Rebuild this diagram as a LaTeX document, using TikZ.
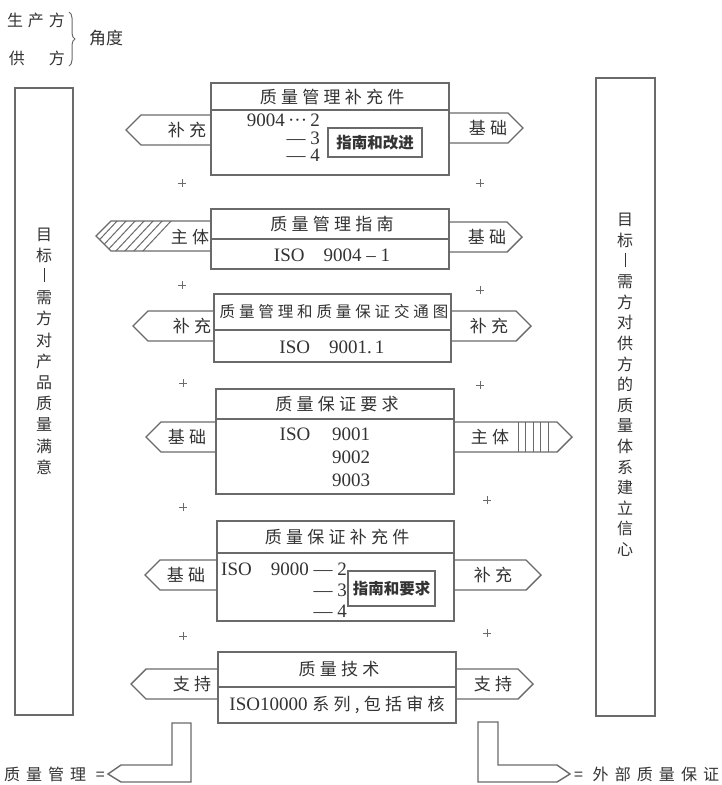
\documentclass[tikz,border=0pt]{standalone}
\usepackage{fontspec}
\setmainfont{Liberation Serif}
\newfontfamily\cjk{Noto Sans CJK SC}
\newfontfamily\cjks{Noto Sans CJK SC}[LetterSpace=25]
\newfontfamily\cjkw{Noto Sans CJK SC}[LetterSpace=38]
\usetikzlibrary{decorations.pathreplacing}
\definecolor{lnc}{HTML}{6A6A6A}
\definecolor{tx}{HTML}{333333}
\tikzset{
 ln/.style={draw=lnc, line width=1.4pt, line join=miter},
 ttl/.style={text=tx, font=\cjks\fontsize{17}{17}\selectfont, inner sep=0pt},
 smttl/.style={text=tx, font=\cjks\fontsize{15.5}{15.5}\selectfont, inner sep=0pt},
 lbl/.style={text=tx, font=\cjks\fontsize{17}{17}\selectfont, inner sep=0pt},
 num/.style={text=tx, font=\fontsize{19}{19}\selectfont, inner sep=0pt},
 inbox/.style={draw=lnc, line width=1.3pt, text=tx, font=\cjk\bfseries\fontsize{15.5}{15.5}\selectfont, inner sep=0pt},
 side/.style={text=tx, font=\cjk\fontsize{16}{16}\selectfont, inner sep=0pt},
 sides/.style={text=tx, font=\cjkw\fontsize{16}{16}\selectfont, inner sep=0pt},
 plusmark/.style={draw=lnc, line width=0.6pt},
}
\newcommand\leftarr[3]{\draw[ln] (#1,#3-15) -- (#2+15,#3-15) -- (#2,#3) -- (#2+15,#3+15) -- (#1,#3+15);}
\newcommand\rightarr[3]{\draw[ln] (#1,#3-15) -- (#2-15,#3-15) -- (#2,#3) -- (#2-15,#3+15) -- (#1,#3+15);}
\newcommand\plusat[2]{\draw[plusmark] (#1-4,#2) -- (#1+4,#2) (#1,#2-4) -- (#1,#2+4);}
\begin{document}
\begin{tikzpicture}[x=1pt,y=-1pt]
\useasboundingbox (0,0) rectangle (721,785);
\fill[white] (0,0) rectangle (721,785);

% top-left
\node[side] (sc) at (36,20) {生\hspace{5pt}产\hspace{5pt}方};
\node[side] (gf) at (37,58) {供\hspace{24pt}方};
\draw[draw=lnc, line width=1pt, decorate, decoration={brace, amplitude=6pt}] (69,12) -- (69,66);
\node[text=tx, font=\cjk\fontsize{17}{17}\selectfont, inner sep=0pt] (jd) at (106,38) {角度};

% tall side boxes
\draw[ln] (15,88) rectangle (73,715);
\node[text=tx, font=\cjk\fontsize{16}{21.2}\selectfont, align=center, inner sep=0pt] (lt) at (44,351)
 {目\\标\\\rule{0.6pt}{14pt}\\需\\方\\对\\产\\品\\质\\量\\满\\意};
\draw[ln] (596,78) rectangle (655,716);
\node[text=tx, font=\cjk\fontsize{16}{20.6}\selectfont, align=center, inner sep=0pt] (rt) at (625,385)
 {目\\标\\\rule{0.6pt}{14pt}\\需\\方\\对\\供\\方\\的\\质\\量\\体\\系\\建\\立\\信\\心};

% Row 1
\draw[ln] (211,83) rectangle (449,175);
\draw[ln] (211,110) -- (449,110);
\node[ttl] (t1) at (332,97) {质量管理补充件};
\leftarr{211}{126}{130}
\rightarr{449}{523}{128}
\node[lbl] (l1) at (187,130) {补充};
\node[lbl] (r1) at (488,128) {基础};
\node[num, font=\fontsize{19}{17.5}\selectfont, align=right, anchor=east] (a1) at (320,138)
 {9004\,···\,2\\— 3\\— 4};
\node[inbox, minimum width=94pt, minimum height=29pt] (i1) at (375,142.5) {指南和改进};

% Row 2
\draw[ln] (211,209) rectangle (449,269);
\draw[ln] (211,239) -- (449,239);
\node[ttl] (t2) at (332,224) {质量管理指南};
\node[num] (n2) at (332,255) {ISO\quad 9004 – 1};
\begin{scope}
\clip (211,221) -- (111,221) -- (96,236) -- (111,251) -- (211,251) -- cycle;
\foreach \s in {88,97,...,142} {\draw[draw=lnc, line width=1pt] (\s,252) -- (\s+30,220);}
\end{scope}
\leftarr{211}{96}{236}
\rightarr{449}{522}{237}
\node[lbl] (l2) at (190,237) {主体};
\node[lbl] (r2) at (487,237) {基础};

% Row 3
\draw[ln] (214,294) rectangle (451,362);
\draw[ln] (214,330) -- (451,330);
\node[smttl] (t3) at (334,312) {质量管理和质量保证交通图};
\node[num] (n3) at (332,347) {ISO\quad 9001.\,1};
\leftarr{214}{133}{326}
\rightarr{451}{531}{326}
\node[lbl] (l3) at (192,326) {补充};
\node[lbl] (r3) at (489,326) {补充};

% Row 4
\draw[ln] (216,389) rectangle (454,494);
\draw[ln] (216,419) -- (454,419);
\node[ttl] (t4) at (337,404) {质量保证要求};
\node[num] (a4) at (295,434) {ISO};
\node[num, font=\fontsize{19}{23}\selectfont, align=center] (b4) at (351,457) {9001\\9002\\9003};
\leftarr{216}{146}{437}
\rightarr{454}{572}{437}
\foreach \x in {518,525.5,...,549} {\draw[draw=lnc, line width=1pt] (\x,422) -- (\x,452);}
\node[lbl] (l4) at (187,437) {基础};
\node[lbl] (r4) at (490,437) {主体};

% Row 5
\draw[ln] (217,521) rectangle (454,621);
\draw[ln] (217,553) -- (454,553);
\node[ttl] (t5) at (337,537) {质量保证补充件};
\node[num, font=\fontsize{19}{21}\selectfont, align=right, anchor=east] (a5) at (347,590)
 {ISO\quad 9000 — 2\\— 3\\— 4};
\node[inbox, minimum width=87pt, minimum height=35pt] (i5) at (391.5,588.5) {指南和要求};
\leftarr{217}{145}{575}
\rightarr{454}{541}{575}
\node[lbl] (l5) at (186,575) {基础};
\node[lbl] (r5) at (493,575) {补充};

% Row 6
\draw[ln] (218,652) rectangle (456,723);
\draw[ln] (218,687) -- (456,687);
\node[ttl] (t6) at (339,669) {质量技术};
\node[num] (n6) at (337,705) {ISO10000 {\cjks\fontsize{17}{17}\selectfont 系列,包括审核}};
\leftarr{218}{131}{684}
\rightarr{456}{533}{684}
\node[lbl] (l6) at (192,684) {支持};
\node[lbl] (r6) at (493,684) {支持};

% plus marks
\plusat{182}{183} \plusat{480}{183}
\plusat{182}{285} \plusat{480}{290}
\plusat{183}{383} \plusat{480}{385}
\plusat{183}{507} \plusat{487}{500}
\plusat{183}{636} \plusat{487}{633}

% bottom L arrows
\draw[ln] (172,723) -- (191,723) -- (191,782) -- (121,782) -- (108,774) -- (121,765) -- (172,765) -- cycle;
\node[sides, anchor=east] (qm) at (105,774) {质量管理 =};
\draw[ln] (478,722) -- (498,722) -- (498,765) -- (557,765) -- (570,774) -- (557,782) -- (478,782) -- cycle;
\node[sides, anchor=west] (wb) at (574,774) {= 外部质量保证};
\end{tikzpicture}
\end{document}
